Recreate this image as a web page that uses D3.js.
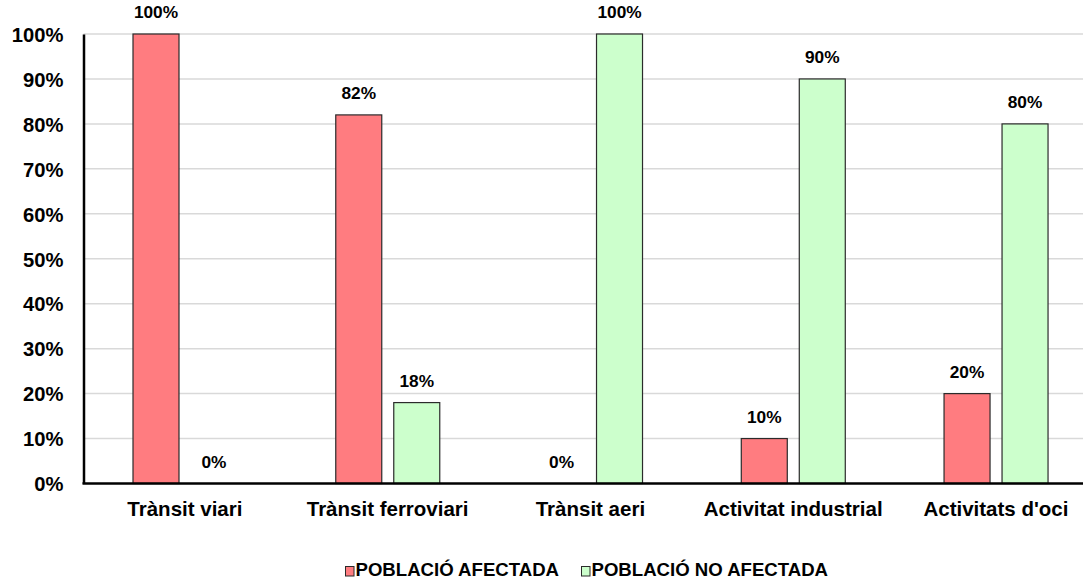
<!DOCTYPE html>
<html><head><meta charset="utf-8">
<script src="https://cdn.jsdelivr.net/npm/d3@7"></script>
<style>body{margin:0;background:#fff}svg{display:block;font-family:"Liberation Sans",Arial,sans-serif;font-weight:bold}</style>
</head><body><svg id="c" width="1083" height="580"></svg>
<script>
const categories = ["Trànsit viari","Trànsit ferroviari","Trànsit aeri","Activitat industrial","Activitats d'oci"];
const seriesNames = ["POBLACIÓ AFECTADA","POBLACIÓ NO AFECTADA"];
const afectada = [100, 82, 0, 10, 20];
const noAfectada = [0, 18, 100, 90, 80];
const yTicks = [0,10,20,30,40,50,60,70,80,90,100];
const colors = ["#ff7c80","#ccffcc"];

(function(){
const svg = d3.select("#c");
const FF = "Liberation Sans, Arial, sans-serif";
const mLeft = 83.5, mTop = 34, mBottom = 483.5, mRight = 1097.3;
const x = d3.scaleBand().domain(categories).range([mLeft, mRight]).paddingInner(0).paddingOuter(0);
const x1 = d3.scaleBand().domain(seriesNames).range([49.5, 153.5]).paddingInner(12/58).paddingOuter(0);
const y = d3.scaleLinear().domain([0,100]).range([mBottom, mTop]);

svg.append("g").selectAll("line").data(yTicks.filter(d=>d>0)).join("line")
  .attr("x1", mLeft).attr("x2", 1083).attr("y1", d=>y(d)).attr("y2", d=>y(d))
  .attr("stroke", "#d9d9d9").attr("stroke-width", 1.5);

const data = [afectada, noAfectada];
const groups = svg.append("g").selectAll("g").data(categories).join("g")
  .attr("transform", d=>`translate(${x(d)},0)`);
groups.each(function(cat, i){
  const g = d3.select(this);
  seriesNames.forEach((s, si) => {
    const v = data[si][i];
    if (v > 0) {
      g.append("rect").attr("x", x1(s)).attr("y", y(v)).attr("width", x1.bandwidth()).attr("height", y(0)-y(v))
        .attr("fill", colors[si]).attr("stroke", "#2b2b2b").attr("stroke-width", 1.2);
    }
    g.append("text").attr("x", x1(s)+x1.bandwidth()/2).attr("y", y(v)-16)
      .attr("text-anchor","middle").attr("font-size", 17.3).attr("fill","#000").text(v+"%");
  });
});

const yAxis = d3.axisLeft(y).tickValues(yTicks).tickFormat(d=>d+"%").tickSize(0).tickPadding(20);
const ya = svg.append("g").attr("transform", `translate(${mLeft},0)`).call(yAxis);
ya.select(".domain").attr("stroke","#000").attr("stroke-width",2.5);
ya.selectAll("text").attr("font-size",20.2).attr("font-family",FF).attr("font-weight","bold").attr("fill","#000").attr("dy","0.36em");

const xAxis = d3.axisBottom(x).tickSize(0);
const xa = svg.append("g").attr("transform", `translate(0,${mBottom})`).call(xAxis);
xa.select(".domain").attr("d", `M${mLeft-1},0H1083`).attr("stroke","#000").attr("stroke-width",2.5);
xa.selectAll("text").attr("font-size",20.5).attr("font-family",FF).attr("font-weight","bold").attr("fill","#000")
  .attr("y", 32.5).attr("dy", 0);

const legend = svg.append("g");
const legItems = [{name: seriesNames[0], x: 345, c: colors[0]},{name: seriesNames[1], x: 581, c: colors[1]}];
legItems.forEach(it => {
  legend.append("rect").attr("x", it.x+0.5).attr("y", 566.5).attr("width", 8.5).attr("height", 9.5)
    .attr("fill", it.c).attr("stroke","#2b2b2b").attr("stroke-width",1);
  legend.append("text").attr("x", it.x+10.5).attr("y", 576).attr("font-size",18.6).attr("fill","#000").text(it.name);
});
})();
</script></body></html>
